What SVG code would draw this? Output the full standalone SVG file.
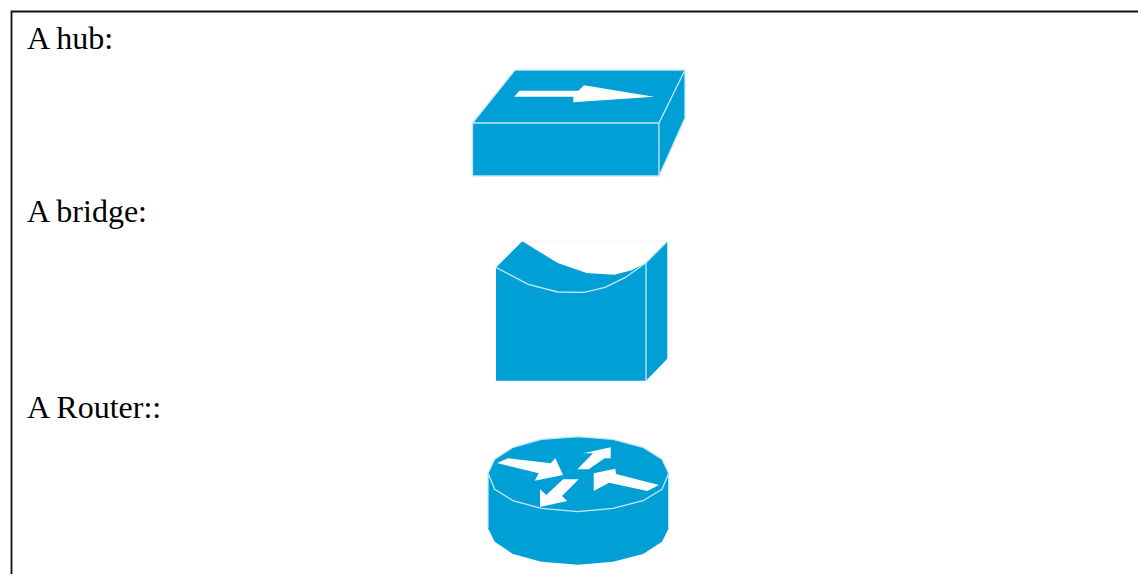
<svg xmlns="http://www.w3.org/2000/svg" width="1138" height="574" viewBox="0 0 1138 574">
<style>
text{font-family:"Liberation Serif","Times New Roman",serif;font-size:32px;fill:#000}
.b{fill:#009fd6}
.e{fill:none;stroke:#c4e9f5;stroke-width:1.3}
.w{fill:#fff}
</style>
<rect width="1138" height="574" fill="#fff"/>
<path d="M11.5 574V11.5H1138" fill="none" stroke="#111" stroke-width="1.8"/>
<g id="label-hub"><text x="27" y="49">A hub:</text></g>
<g id="hub">
<polygon class="b" points="472.5,123 515,70 685,70 685,118 659,176 472.5,176"/>
<path class="e" d="M472.5 176V123L515 70H685L659 123V176M472.5 123H659M685 70V118L659 176M472.5 176H659"/>
<polygon class="w" points="514.3,96.7 519.3,90.7 578.3,90.7 584,85.3 654,96.7 573.3,102.3 573.3,96.7"/>
</g>
<g id="label-bridge"><text x="27" y="222">A bridge:</text></g>
<g id="bridge">
<polygon class="b" points="496,267.5 522.3,241.3 557.7,263 586.7,273 614.3,274.7 631.7,270.3 646,262.7 667.3,241.3 667.3,358.7 646,380.7 496,380.7"/>
<path d="M522.3 241.3H667.3" fill="none" stroke="#f4f4f4" stroke-width="1"/>
<path class="e" d="M496 267.5L528.3 284.3 557.7 292 584.3 292.3 605 287.3 625 277.7 646 262.7V380.7M646 262.7L667.3 241.3"/>
</g>
<g id="label-router"><text x="27" y="418">A Router::</text></g>
<g id="router">
<polygon class="b" points="488,473.3 494.7,459.3 513,447.3 541.3,439.3 578,436.7 613,439.3 643,447.3 662,459.3 668.7,473.3 668.7,528.3 662,541.7 643,554 613,561.7 578,564.7 541.3,561.7 513,554 494.7,541.7 488,528.3"/>
<path class="e" d="M488 528.3V473.3L494.7 459.3 513 447.3 541.3 439.3 578 436.7 613 439.3 643 447.3 662 459.3 668.7 473.3V528.3M488 473.3L494.7 489.3 513 500.7 541.3 508.3 578 511.7 613 508.3 643 500.7 662 489.3 668.7 473.3"/>
<polygon class="w" points="497,463 508,458.3 550.7,463.3 555.3,458 563,475 534.7,480.7 538.7,473.3"/>
<polygon class="w" points="577.3,469.3 593,453.3 583.3,453.3 610.7,447.3 610.7,458.3 604.7,458.3 588.7,469.3"/>
<polygon class="w" points="593.7,473.3 615.3,468.7 616,474 659,485 647.3,491 609,482.7 593.7,491"/>
<polygon class="w" points="563,479.3 578.7,479.3 562,496 567.3,501 540,507 540,489.3 546.3,495"/>
</g>
</svg>
